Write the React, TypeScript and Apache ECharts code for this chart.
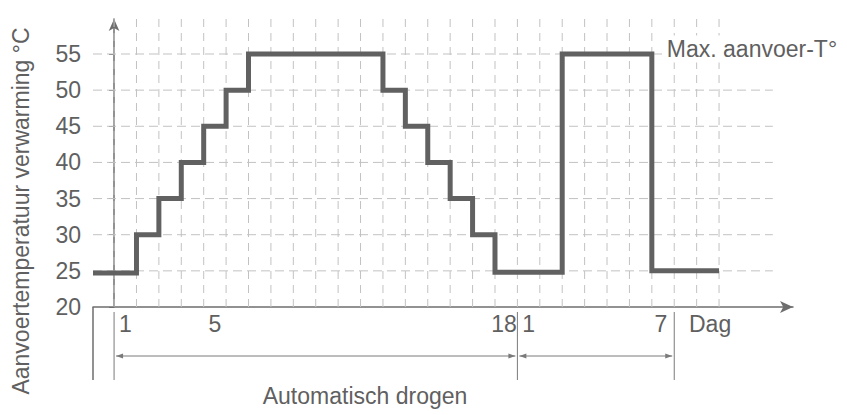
import React, { useEffect, useRef } from "react";
import * as echarts from "echarts";

// ---- data ----
const stepDays = [-0.94, 1, 2, 3, 4, 5, 6, 12, 13, 14, 15, 16, 17, 20, 24, 27];
const stepTemps = [24.7, 30, 35, 40, 45, 50, 55, 50, 45, 40, 35, 30, 24.8, 55, 25, 25];

const dayGridLines = [0, 1, 2, 3, 4, 5, 6, 7, 8, 9, 10, 11, 12, 13, 14, 15, 16, 17, 18, 19, 20, 21, 22, 23, 24, 25, 26, 27];
const tempGridLines = [25, 30, 35, 40, 45, 50, 55];
const tempTicks = [20, 25, 30, 35, 40, 45, 50, 55];

const dayLabelValues = [0.5, 4.5, 17.4, 18.5, 24.4, 26.6];
const dayLabelTexts = ["1", "5", "18", "1", "7", "Dag"];

const phaseBounds = [0, 18, 25];
const phaseTitle = "Automatisch drogen";
const phaseTitleDay = 11.2;
const yTitle = "Aanvoertemperatuur verwarming °C";
const maxLabel = "Max. aanvoer-T°";
const maxLabelDay = 24;
const maxLabelTemp = 55;

// ---- axis ranges ----
const X_MIN = -0.94;
const X_MAX = 30.3;
const Y_MIN = 20;
const Y_MAX = 59.84;
const V_GRID_TOP = 60.1;
const H_GRID_END = 29.4;

const FONT = "'Liberation Sans', Arial, Helvetica, sans-serif";
const TEXT_COLOR = "#606060";
const AXIS_COLOR = "#6e6e6e";
const GRID_COLOR = "#c2c2c2";
const LINE_COLOR = "#616161";
const ANNO_COLOR = "#7a7a7a";
const FS = 23;

export default function App() {
  const ref = useRef<HTMLDivElement>(null);

  useEffect(() => {
    document.body.style.margin = "0";
    if (!ref.current) return;
    const chart = echarts.init(ref.current, null, { renderer: "svg" });

    const option: any = {
      animation: false,
      backgroundColor: "#ffffff",
      grid: { left: 93, right: 54, top: 19, bottom: 108 },
      xAxis: {
        type: "value",
        min: X_MIN,
        max: X_MAX,
        axisLine: {
          show: true,
          symbol: ["none", "arrow"],
          symbolSize: [9, 13],
          lineStyle: { color: AXIS_COLOR, width: 1.5 },
        },
        axisTick: { show: false },
        splitLine: { show: false },
        axisLabel: {
          customValues: dayLabelValues,
          margin: 5,
          color: TEXT_COLOR,
          fontSize: FS,
          fontFamily: FONT,
          formatter: (v: number) => {
            const i = dayLabelValues.findIndex((x) => Math.abs(x - v) < 1e-6);
            return i >= 0 ? dayLabelTexts[i] : "";
          },
        },
      },
      yAxis: {
        type: "value",
        min: Y_MIN,
        max: Y_MAX,
        axisLine: {
          show: true,
          symbol: ["none", "arrow"],
          symbolSize: [8, 12],
          lineStyle: { color: AXIS_COLOR, width: 1.5 },
        },
        axisTick: {
          show: true,
          customValues: tempTicks,
          length: 5,
          lineStyle: { color: AXIS_COLOR, width: 1 },
        },
        splitLine: { show: false },
        axisLabel: {
          customValues: tempTicks,
          margin: 12,
          color: TEXT_COLOR,
          fontSize: FS,
          fontFamily: FONT,
        },
      },
      graphic: [
        {
          type: "text",
          x: 21,
          y: 211,
          rotation: Math.PI / 2,
          style: {
            text: yTitle,
            fill: TEXT_COLOR,
            fontSize: FS,
            fontFamily: FONT,
            align: "center",
            verticalAlign: "middle",
          },
        },
      ],
      series: [
        {
          type: "custom",
          name: "vgrid",
          z: 1,
          clip: false,
          silent: true,
          data: dayGridLines.map((d) => [d, Y_MIN]),
          renderItem: (params: any, api: any) => {
            const d = api.value(0);
            const p0 = api.coord([d, Y_MIN]);
            const p1 = api.coord([d, V_GRID_TOP]);
            return {
              type: "line",
              shape: { x1: p0[0], y1: p0[1], x2: p1[0], y2: p1[1] },
              style: { stroke: GRID_COLOR, lineWidth: 1, lineDash: [8, 6] },
            };
          },
        },
        {
          type: "custom",
          name: "hgrid",
          z: 1,
          clip: false,
          silent: true,
          data: tempGridLines.map((t) => [X_MIN, t]),
          renderItem: (params: any, api: any) => {
            const t = api.value(1);
            const p0 = api.coord([X_MIN, t]);
            const p1 = api.coord([H_GRID_END, t]);
            return {
              type: "line",
              shape: { x1: p0[0], y1: p0[1], x2: p1[0], y2: p1[1] },
              style: { stroke: GRID_COLOR, lineWidth: 1, lineDash: [9, 5] },
            };
          },
        },
        {
          type: "line",
          name: "aanvoer",
          z: 3,
          step: "end",
          symbol: "none",
          data: stepDays.map((d, i) => [d, stepTemps[i]]),
          lineStyle: { color: LINE_COLOR, width: 5, join: "miter", cap: "butt" },
        },
        {
          type: "custom",
          name: "annotations",
          z: 4,
          clip: false,
          silent: true,
          data: [[0, Y_MIN]],
          renderItem: (params: any, api: any) => {
            const axisY = api.coord([0, Y_MIN])[1];
            const sepTop = axisY + 5;
            const sepBottom = axisY + 73;
            const arrowY = axisY + 49;
            const children: any[] = [];
            const lineStyle = { stroke: ANNO_COLOR, lineWidth: 1 };
            const ax = api.coord([X_MIN, Y_MIN])[0];
            children.push({
              type: "line",
              shape: { x1: ax, y1: axisY, x2: ax, y2: sepBottom },
              style: { stroke: AXIS_COLOR, lineWidth: 1.5 },
            });
            const xs = phaseBounds.map((b) => api.coord([b, Y_MIN])[0]);
            xs.forEach((x) => {
              children.push({
                type: "line",
                shape: { x1: x, y1: sepTop, x2: x, y2: sepBottom },
                style: lineStyle,
              });
            });
            for (let i = 0; i < xs.length - 1; i++) {
              const a = xs[i] + 2;
              const b = xs[i + 1] - 2;
              children.push({
                type: "line",
                shape: { x1: a, y1: arrowY, x2: b, y2: arrowY },
                style: lineStyle,
              });
              children.push({
                type: "polygon",
                shape: { points: [[a, arrowY], [a + 7, arrowY - 2.5], [a + 7, arrowY + 2.5]] },
                style: { fill: ANNO_COLOR },
              });
              children.push({
                type: "polygon",
                shape: { points: [[b, arrowY], [b - 7, arrowY - 2.5], [b - 7, arrowY + 2.5]] },
                style: { fill: ANNO_COLOR },
              });
            }
            children.push({
              type: "text",
              x: api.coord([phaseTitleDay, Y_MIN])[0],
              y: axisY + 89,
              style: {
                text: phaseTitle,
                fill: TEXT_COLOR,
                fontSize: FS,
                fontFamily: FONT,
                align: "center",
                verticalAlign: "middle",
              },
            });
            const mp = api.coord([maxLabelDay, maxLabelTemp]);
            children.push({
              type: "text",
              x: mp[0] + 15,
              y: mp[1] - 5,
              style: {
                text: maxLabel,
                fill: TEXT_COLOR,
                fontSize: FS,
                fontFamily: FONT,
                align: "left",
                verticalAlign: "middle",
                backgroundColor: "#ffffff",
                padding: [2, 2, 2, 0],
              },
            });
            return { type: "group", children };
          },
        },
      ],
    };

    chart.setOption(option);
    return () => chart.dispose();
  }, []);

  return <div ref={ref} style={{ width: 847, height: 415 }} />;
}
